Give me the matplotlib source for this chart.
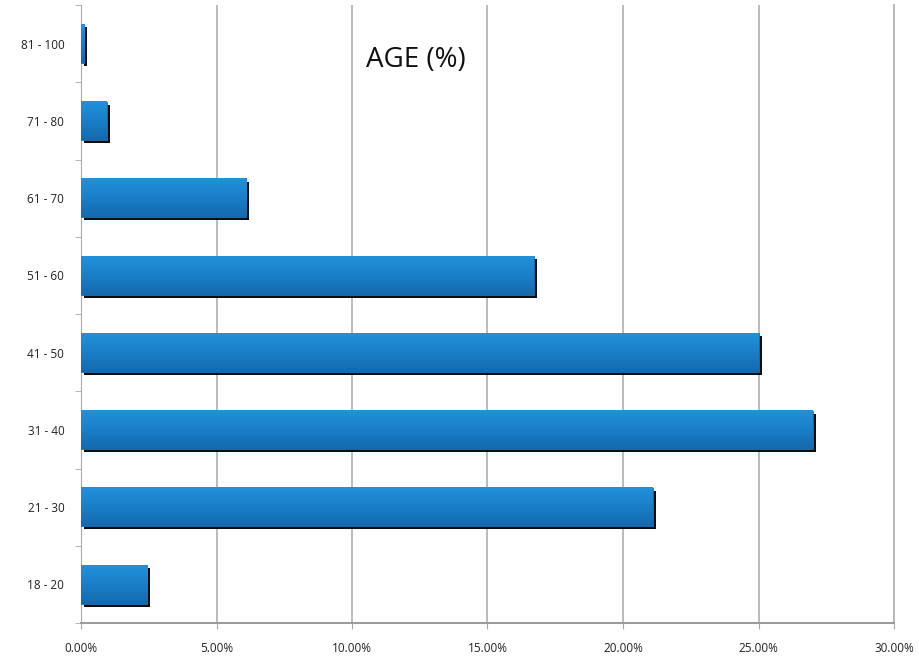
import numpy as np
import matplotlib
matplotlib.use('Agg')
import matplotlib.pyplot as plt
import matplotlib.patheffects as pe
from matplotlib.ticker import FixedLocator
from matplotlib.colors import LinearSegmentedColormap

## data
age_groups = ['18 - 20', '21 - 30', '31 - 40', '41 - 50', '51 - 60', '61 - 70', '71 - 80', '81 - 100']
age_pct = [2.45, 21.1, 27.0, 25.0, 16.7, 6.1, 0.95, 0.12]
x_ticks = [0, 5, 10, 15, 20, 25, 30]

plt.rcParams['font.family'] = ['Open Sans', 'DejaVu Sans']

fig = plt.figure(figsize=(9.19, 6.61), dpi=100)
ax = fig.add_axes([81/919, 1-623/661, (894-81)/919, (623-5)/661])

y = np.arange(len(age_groups))
bars = ax.barh(y, age_pct, height=0.5, color='#1a7fca', edgecolor='#1670b8', linewidth=0.6, zorder=3)

# drop shadow like the old excel 3d style
for b in bars:
    b.set_path_effects([pe.SimplePatchShadow(offset=(2.2, -2.2), shadow_rgbFace='black', alpha=0.95), pe.Normal()])

# smooth vertical gradient on each bar
grad_cmap = LinearSegmentedColormap.from_list('bargrad', ['#1569ad', '#1a7fc8', '#2291db'])
grad = np.linspace(0, 1, 64).reshape(-1, 1)
for b in bars:
    x0, y0 = b.get_x(), b.get_y()
    w, h = b.get_width(), b.get_height()
    ax.imshow(grad, cmap=grad_cmap, origin='lower', aspect='auto',
              extent=(x0, x0 + w, y0, y0 + h), zorder=4, interpolation='bilinear')

ax.set_xlim(0, 30)
ax.set_ylim(-0.5, len(age_groups) - 0.5)
ax.set_xticks(x_ticks)
ax.set_xticklabels(['%.2f%%' % v for v in x_ticks], fontsize=8.5, color='#222222')
ax.set_yticks(y)
ax.set_yticklabels(age_groups, fontsize=8.5, color='#222222')
ax.tick_params(axis='y', length=0, pad=12)
ax.yaxis.set_minor_locator(FixedLocator(np.arange(-0.5, len(age_groups), 1)))
ax.tick_params(axis='y', which='minor', length=4, color='#aaaaaa', direction='out')
ax.tick_params(axis='x', length=4, color='#aaaaaa', direction='out', pad=10)

ax.grid(axis='x', color='#b5b5b5', linewidth=1.3, zorder=0)
ax.spines['top'].set_visible(False)
ax.spines['right'].set_color('#b5b5b5')
ax.spines['right'].set_linewidth(1.3)
ax.spines['left'].set_color('#aaaaaa')
ax.spines['bottom'].set_color('#999999')
ax.spines['bottom'].set_linewidth(1.4)

ax.text(0.412, 0.911, 'AGE (%)', transform=ax.transAxes, fontsize=20, ha='center', va='center', color='#111111')

fig.savefig('out.png', dpi=100)
